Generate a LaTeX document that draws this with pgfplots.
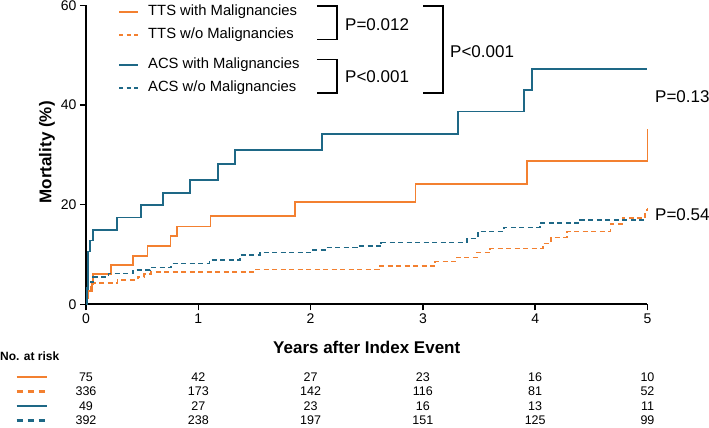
\documentclass[border=0pt]{standalone}
\usepackage{fontspec}
\setmainfont{Liberation Sans}
\usepackage{pgfplots}
\pgfplotsset{compat=1.18}
\usepackage{pgfplotstable}
\definecolor{tts}{RGB}{243,128,48}
\definecolor{acs}{RGB}{30,104,134}

\pgfplotstableread{
t v
0 0
0.008 1.3
0.02 2.7
0.05 4.0
0.065 6.1
0.22 7.9
0.42 9.7
0.548 11.7
0.753 13.7
0.807 15.6
1.109 17.7
1.86 20.6
2.935 24.2
3.925 28.8
5 35.1
}\ttswith

\pgfplotstableread{
t v
0 0
0.005 1.2
0.012 2.2
0.04 3.5
0.05 4.2
0.28 4.9
0.46 5.5
0.52 6.1
0.58 6.5
1.51 7.0
2.61 7.7
3.11 8.6
3.30 9.4
3.48 10.4
3.60 11.2
4.07 12.2
4.14 13.4
4.28 14.6
4.67 16.1
4.78 17.3
4.98 18.9
5 19.3
}\ttswo

\pgfplotstableread{
t v
0 0
0.008 3.3
0.02 10.6
0.036 12.8
0.065 14.9
0.279 17.4
0.487 19.9
0.689 22.4
0.926 25.0
1.178 28.2
1.327 31.0
2.105 34.1
3.31 38.7
3.90 43.0
3.974 47.2
5 47.2
}\acswith

\pgfplotstableread{
t v
0 0
0.005 2.9
0.02 3.8
0.04 4.5
0.06 5.5
0.2 6.2
0.42 6.9
0.57 7.4
0.76 8.2
1.10 8.9
1.37 9.9
1.55 10.4
2.01 10.9
2.13 11.4
2.41 11.7
2.63 12.4
3.39 13.2
3.49 14.6
3.72 15.4
4.04 16.3
4.40 16.9
5 16.9
}\acswo

\begin{document}
\begin{tikzpicture}
\begin{axis}[
  scale only axis, width=561.5bp, height=299bp,
  xmin=0, xmax=5, ymin=0, ymax=60,
  axis lines=left,
  axis line style={line width=1.8bp,-},
  every tick/.style={black, line width=1.5bp},
  tick align=outside, major tick length=6bp,
  xtick={0,1,2,3,4,5}, ytick={0,20,40,60},
  /pgf/number format/assume math mode=true,
  ticklabel style={font=\fontsize{14bp}{16bp}\selectfont},
  clip=false,
]
\coordinate (O) at (axis cs:0,0);
\addplot[const plot, color=tts, line width=1.8bp] table[x=t,y=v] {\ttswith};
\addplot[const plot, color=tts, line width=1.8bp, dash pattern=on 5bp off 3.5bp] table[x=t,y=v] {\ttswo};
\addplot[const plot, color=acs, line width=1.8bp] table[x=t,y=v] {\acswith};
\addplot[const plot, color=acs, line width=1.8bp, dash pattern=on 5bp off 3.5bp] table[x=t,y=v] {\acswo};

% legend
\draw[tts, line width=1.6bp] (axis cs:0.294,58.66) -- (axis cs:0.463,58.66);
\draw[tts, line width=1.6bp, dash pattern=on 4bp off 3.5bp] (axis cs:0.294,54.04) -- (axis cs:0.463,54.04);
\draw[acs, line width=1.6bp] (axis cs:0.294,48.02) -- (axis cs:0.463,48.02);
\draw[acs, line width=1.6bp, dash pattern=on 4bp off 3.5bp] (axis cs:0.294,43.4) -- (axis cs:0.463,43.4);
\begin{scope}[every node/.style={anchor=west, inner sep=0pt, font=\fontsize{14.8bp}{17bp}\selectfont}]
\node at (axis cs:0.552,58.66) {TTS with Malignancies};
\node at (axis cs:0.552,54.04) {TTS w/o Malignancies};
\node at (axis cs:0.552,48.02) {ACS with Malignancies};
\node at (axis cs:0.552,43.4) {ACS w/o Malignancies};
\end{scope}

% brackets
\draw[line width=1.3bp] (axis cs:2.057,59.86) -- (axis cs:2.235,59.86) -- (axis cs:2.235,53.07) -- (axis cs:2.057,53.07);
\draw[line width=1.3bp] (axis cs:2.057,49.06) -- (axis cs:2.235,49.06) -- (axis cs:2.235,42.4) -- (axis cs:2.057,42.4);
\draw[line width=1.3bp] (axis cs:3.001,59.86) -- (axis cs:3.179,59.86) -- (axis cs:3.179,42.4) -- (axis cs:3.001,42.4);
\begin{scope}[every node/.style={anchor=west, inner sep=0pt, font=\fontsize{17bp}{19bp}\selectfont}]
\node at (axis cs:2.306,56.05) {P=0.012};
\node at (axis cs:2.306,45.6) {P<0.001};
\node at (axis cs:3.241,50.6) {P<0.001};
\node at (axis cs:5.067,41.6) {P=0.13};
\node at (axis cs:5.067,17.9) {P=0.54};
\end{scope}

% axis labels
\node[font=\bfseries\fontsize{17bp}{19bp}\selectfont] at (axis cs:2.5,-8.6) {Years after Index Event};
\node[rotate=90, font=\bfseries\fontsize{17bp}{19bp}\selectfont] at (axis cs:-0.347,30.5) {Mortality (\%)};

% risk table
\node[anchor=west, inner sep=0pt, font=\bfseries\fontsize{12bp}{14bp}\selectfont] at (axis cs:-0.766,-10.5) {No. at risk};
\draw[tts, line width=2.6bp] (axis cs:-0.617,-14.6) -- (axis cs:-0.345,-14.6);
\draw[tts, line width=2.6bp, dash pattern=on 6bp off 5bp] (axis cs:-0.617,-17.5) -- (axis cs:-0.345,-17.5);
\draw[acs, line width=2.6bp] (axis cs:-0.617,-20.4) -- (axis cs:-0.345,-20.4);
\draw[acs, line width=2.6bp, dash pattern=on 6bp off 5bp] (axis cs:-0.617,-23.3) -- (axis cs:-0.345,-23.3);
\begin{scope}[every node/.style={inner sep=0pt, font=\fontsize{12.5bp}{14bp}\selectfont}]
\node at (axis cs:0,-14.6) {75};
\node at (axis cs:0,-17.5) {336};
\node at (axis cs:0,-20.4) {49};
\node at (axis cs:0,-23.3) {392};
\node at (axis cs:1,-14.6) {42};
\node at (axis cs:1,-17.5) {173};
\node at (axis cs:1,-20.4) {27};
\node at (axis cs:1,-23.3) {238};
\node at (axis cs:2,-14.6) {27};
\node at (axis cs:2,-17.5) {142};
\node at (axis cs:2,-20.4) {23};
\node at (axis cs:2,-23.3) {197};
\node at (axis cs:3,-14.6) {23};
\node at (axis cs:3,-17.5) {116};
\node at (axis cs:3,-20.4) {16};
\node at (axis cs:3,-23.3) {151};
\node at (axis cs:4,-14.6) {16};
\node at (axis cs:4,-17.5) {81};
\node at (axis cs:4,-20.4) {13};
\node at (axis cs:4,-23.3) {125};
\node at (axis cs:5,-14.6) {10};
\node at (axis cs:5,-17.5) {52};
\node at (axis cs:5,-20.4) {11};
\node at (axis cs:5,-23.3) {99};
\end{scope}
\end{axis}
\pgfresetboundingbox
\path (O) ++(-86bp,-123.7bp) rectangle ++(709bp,428bp);
\end{tikzpicture}
\end{document}
